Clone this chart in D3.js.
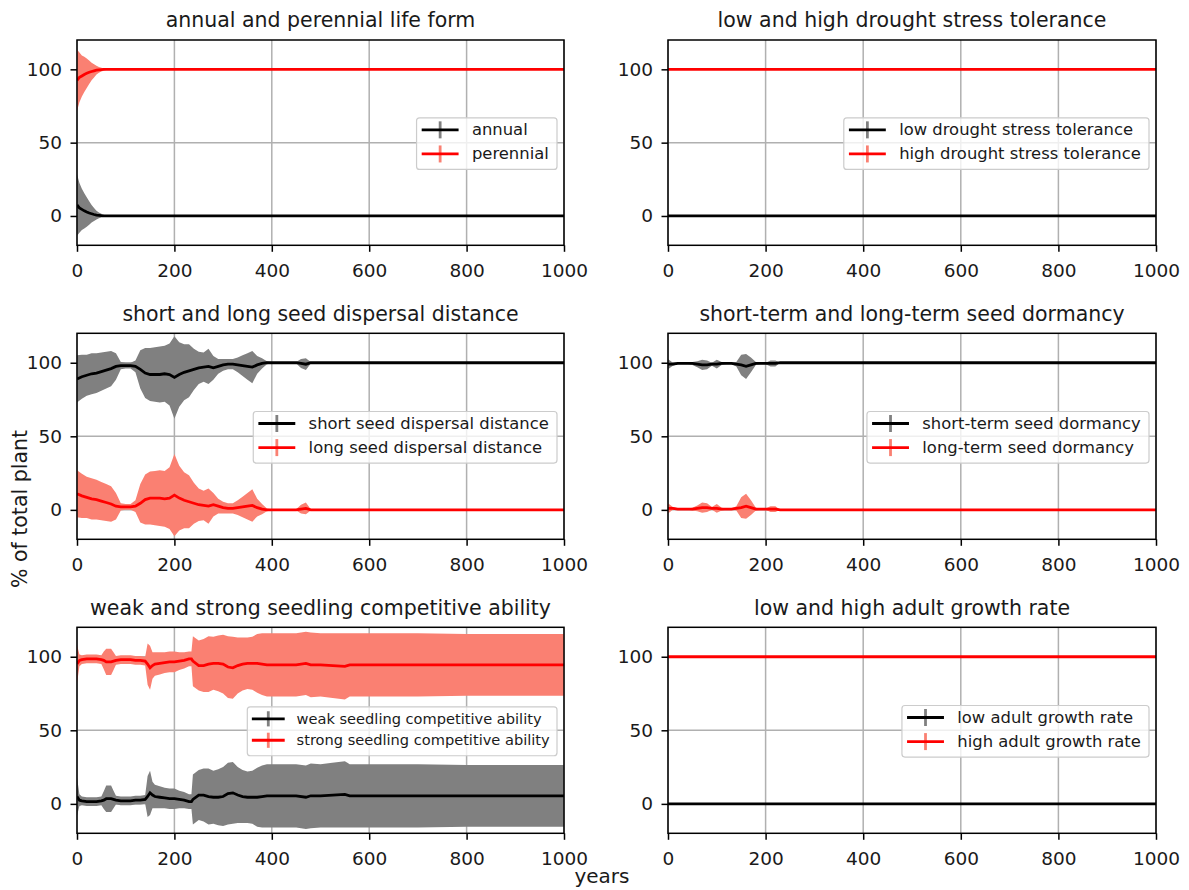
<!DOCTYPE html>
<html><head><meta charset="utf-8">
<script src="https://cdn.jsdelivr.net/npm/d3@7"></script>
<style>
body{margin:0;background:#fff;}
text{font-family:"DejaVu Sans",sans-serif;fill:#1a1a1a;}
</style></head><body>
<svg id="chart" width="1189" height="890"></svg>
<script>
// ---------------- data ----------------
const xTicks = [0, 200, 400, 600, 800, 1000];
const yTicks = [0, 50, 100];

// annual / perennial life form
const lifeYears      = [0, 5, 10, 15, 20, 25, 30, 35, 40, 45, 50, 55, 60, 70, 1000];
const annualMean     = [7.5, 5.5, 4.5, 3.5, 2.7, 2, 1.5, 1, 0.6, 0.4, 0.2, 0.1, 0, 0, 0];
const perennialMean  = [92.5, 94.5, 95.5, 96.5, 97.3, 98, 98.5, 99, 99.4, 99.6, 99.8, 99.9, 100, 100, 100];
const lifeErr        = [21, 17, 14, 12, 10, 8, 6, 4.5, 3, 2, 1.3, 0.8, 0.4, 0, 0];

// drought stress tolerance
const droughtYears = [0, 1000];
const lowDrought   = [0, 0];
const highDrought  = [100, 100];
const droughtErr   = [0, 0];

// seed dispersal distance
const dispYears = [0,10,20,30,40,50,60,70,80,90,100,110,120,130,140,150,160,170,180,190,200,
                   210,220,230,240,250,260,270,280,290,300,310,320,330,340,350,360,370,380,390,400,
                   410,420,430,440,450,460,470,480,490,500,1000];
const shortDisp = [89,90.5,91.5,92.5,93,94,95,96,97.5,98,98,98,97.5,95.5,93,92,92,92,92.5,92,90,
                   92,93.5,94.5,95.5,96.5,97,97.5,96.5,97.5,98.5,99,99,98.5,98,97.5,97,98.5,99.5,100,100,
                   100,100,100,100,100,99.5,99,100,100,100,100];
const longDisp  = [11,9.5,8.5,7.5,7,6,5,4,2.5,2,2,2,2.5,4.5,7,8,8,8,7.5,8,10,
                   8,6.5,5.5,4.5,3.5,3,2.5,3.5,2.5,1.5,1,1,1.5,2,2.5,3,1.5,0.5,0,0,
                   0,0,0,0,0,0.5,1,0,0,0,0];
const dispErr   = [16,15,14,14,13.5,13,12.5,12,9,2.5,2,2,4,13,17,18,18.5,19,19,21,28,
                   22,19,18,14,11,10,12,8,5,4,3.5,3.5,5,7,9,11,6,3.5,1,0.5,
                   0.3,0.3,0.3,0.3,0.5,3,4,0.5,0,0,0];

// seed dormancy
const dormYears  = [0,10,20,30,40,50,60,70,80,90,100,110,120,130,140,150,160,170,180,190,200,210,220,230,1000];
const shortDorm  = [99,99,99.5,99.5,99.5,99.5,99,98.5,98.5,99,99,99.5,99.5,99.5,99,98.5,97.5,98.5,99.5,99.5,99.5,99.5,99.5,100,100];
const longDorm   = [1,1,0.5,0.5,0.5,0.5,1,1.5,1.5,1,1,0.5,0.5,0.5,1,1.5,2.5,1.5,0.5,0.5,0.5,0.5,0.5,0,0];
const dormErr    = [3.5,1,0.5,0.5,0.5,1,2,3.5,3,1,3,1,0.5,0.5,1.5,7,8.5,5,1,0.5,0.5,2,2,0,0];

// seedling competitive ability
const seedYears  = [0,5,10,20,30,40,50,55,60,70,75,80,90,100,110,120,130,140,145,150,155,160,170,180,190,200,
                    210,220,230,235,238,250,260,270,280,290,300,310,320,330,340,350,360,370,380,390,400,
                    450,470,480,500,550,560,600,700,800,900,1000];
const weakSeed   = [5,2.5,2,1.5,1.5,1.5,2,2.5,3.5,3.5,3,2.5,2,2,2,2.5,2.5,3,5,7.5,6,5,4.5,4,3.5,3.5,
                    3,2.5,1.5,1.5,3,6,6,5,4.5,4.5,5,7,7.5,6,5,4.5,4.5,4.5,5,5.5,5.5,
                    5.5,4.5,5.5,5.5,6.5,5.5,5.5,5.5,5.5,5.5,5.5];
const strongSeed = [95,97.5,98,98.5,98.5,98.5,98,97.5,96.5,96.5,97,97.5,98,98,98,97.5,97.5,97,95,92.5,94,95,95.5,96,96.5,96.5,
                    97,97.5,98.5,98.5,97,94,94,95,95.5,95.5,95,93,92.5,94,95,95.5,95.5,95.5,95,94.5,94.5,
                    94.5,95.5,94.5,94.5,93.5,94.5,94.5,94.5,94.5,94.5,94.5];
const seedErr    = [13,4,3,3,3,3,3,6,9,9,6,3,3,3,3,3,3,3,14,15,9,8,7.5,7,7,7,
                    6,5.5,5,5,17,17,18,19,18,19,20,21,21,19,18,17.5,18,20,21,21.5,21.5,
                    21.5,21.5,22,21.5,22.5,21.5,21.5,21.5,21,21,21];

// adult growth rate
const growthYears = [0, 1000];
const lowGrowth   = [0, 0];
const highGrowth  = [100, 100];
const growthErr   = [0, 0];

const panels = [
  {title:"annual and perennial life form", years:lifeYears, a:annualMean, b:perennialMean, err:lifeErr,
   labels:["annual","perennial"], col:0, row:0, lf:16.4},
  {title:"low and high drought stress tolerance", years:droughtYears, a:lowDrought, b:highDrought, err:droughtErr,
   labels:["low drought stress tolerance","high drought stress tolerance"], col:1, row:0, lf:16.4},
  {title:"short and long seed dispersal distance", years:dispYears, a:shortDisp, b:longDisp, err:dispErr,
   labels:["short seed dispersal distance","long seed dispersal distance"], col:0, row:1, lf:16.4},
  {title:"short-term and long-term seed dormancy", years:dormYears, a:shortDorm, b:longDorm, err:dormErr,
   labels:["short-term seed dormancy","long-term seed dormancy"], col:1, row:1, lf:16.4},
  {title:"weak and strong seedling competitive ability", years:seedYears, a:weakSeed, b:strongSeed, err:seedErr,
   labels:["weak seedling competitive ability","strong seedling competitive ability"], col:0, row:2, lf:14.6},
  {title:"low and high adult growth rate", years:growthYears, a:lowGrowth, b:highGrowth, err:growthErr,
   labels:["low adult growth rate","high adult growth rate"], col:1, row:2, lf:16.4}
];

// ---------------- layout ----------------
const colX = [[77, 564], [668, 1156]];
const rowY = [[40, 245.3], [333.3, 539.3], [627.3, 833.3]];
const lineCols = ["#000000", "#ff0000"];
const bandCols = ["#808080", "#fa8072"];

const svg = d3.select("#chart");
const defs = svg.append("defs");

panels.forEach((p, pi) => {
  const [x0, x1] = colX[p.col], [y0, y1] = rowY[p.row];
  const x = d3.scaleLinear().domain([0, 1000]).range([x0, x1]);
  const y = d3.scaleLinear().domain([-20, 120]).range([y1, y0]);
  const g = svg.append("g");
  const cid = "clip" + pi;
  defs.append("clipPath").attr("id", cid).append("rect")
    .attr("x", x0).attr("y", y0).attr("width", x1 - x0).attr("height", y1 - y0);

  // grid
  g.append("g").selectAll("line").data(xTicks).join("line")
    .attr("x1", d => x(d)).attr("x2", d => x(d)).attr("y1", y0).attr("y2", y1)
    .attr("stroke", "#b0b0b0").attr("stroke-width", 1.5);
  g.append("g").selectAll("line").data(yTicks).join("line")
    .attr("x1", x0).attr("x2", x1).attr("y1", d => y(d)).attr("y2", d => y(d))
    .attr("stroke", "#b0b0b0").attr("stroke-width", 1.5);

  const plot = g.append("g").attr("clip-path", `url(#${cid})`);
  [p.a, p.b].forEach((series, si) => {
    const data = p.years.map((yr, i) => ({yr, m: series[i], e: p.err[i]}));
    const area = d3.area().x(d => x(d.yr)).y0(d => y(d.m - d.e)).y1(d => y(d.m + d.e));
    plot.append("path").datum(data).attr("d", area).attr("fill", bandCols[si]);
    plot.append("path").datum(data)
      .attr("d", d3.line().x(d => x(d.yr)).y(d => y(d.m)))
      .attr("fill", "none").attr("stroke", lineCols[si]).attr("stroke-width", 2.8);
  });

  // spines
  g.append("rect").attr("x", x0).attr("y", y0).attr("width", x1 - x0).attr("height", y1 - y0)
    .attr("fill", "none").attr("stroke", "#000").attr("stroke-width", 1.5);

  // axes
  const ax = g.append("g").attr("transform", `translate(0,${y1})`)
    .call(d3.axisBottom(x).tickValues(xTicks).tickSize(6.5).tickPadding(12).tickFormat(d3.format("d")));
  const ay = g.append("g").attr("transform", `translate(${x0},0)`)
    .call(d3.axisLeft(y).tickValues(yTicks).tickSize(6.5).tickPadding(8.5).tickFormat(d3.format("d")));
  [ax, ay].forEach(a => {
    a.select(".domain").remove();
    a.selectAll(".tick line").attr("stroke", "#000").attr("stroke-width", 1.5);
    a.selectAll(".tick text").style("font-size", "18.5px").style("font-family", "DejaVu Sans").attr("fill", "#1a1a1a");
  });

  // title
  g.append("text").attr("x", (x0 + x1) / 2).attr("y", y0 - 12.7).attr("text-anchor", "middle")
    .style("font-size", "20.5px").text(p.title);

  // legend
  const fs = p.lf, k = fs / 16;
  const lg = g.append("g");
  const box = lg.append("rect");
  const cy = (y0 + y1) / 2 + 1;
  const rowGap = 23.5 * k;
  const boxH = rowGap + 27.5;
  const top = cy - boxH / 2;
  const right = x1 - 7;
  const texts = p.labels.map((lab, li) =>
    lg.append("text").attr("y", top + 12 + li * rowGap).attr("dy", "0.33em")
      .style("font-size", fs + "px").text(lab));
  const tw = d3.max(texts, t => t.node().getComputedTextLength());
  const boxW = 54 * k + tw + 8 * k;
  const left = right - boxW;
  box.attr("x", left).attr("y", top).attr("width", boxW).attr("height", boxH)
    .attr("rx", 3).attr("fill", "#fff").attr("fill-opacity", 0.8)
    .attr("stroke", "#cccccc").attr("stroke-width", 1.2);
  texts.forEach(t => t.attr("x", left + 54 * k));
  p.labels.forEach((lab, li) => {
    const ry = top + 12 + li * rowGap;
    const hx0 = left + 5 * k, hx1 = left + 41 * k, hc = (hx0 + hx1) / 2;
    lg.append("line").attr("x1", hc).attr("x2", hc).attr("y1", ry - 8.3 * k).attr("y2", ry + 8.3 * k)
      .attr("stroke", bandCols[li]).attr("stroke-width", 2.8);
    lg.append("line").attr("x1", hx0).attr("x2", hx1).attr("y1", ry).attr("y2", ry)
      .attr("stroke", lineCols[li]).attr("stroke-width", 2.8);
  });
});

// shared axis labels
svg.append("text").attr("transform", "translate(27,509) rotate(-90)").attr("text-anchor", "middle")
  .style("font-size", "20.5px").text("% of total plant");
svg.append("text").attr("x", 602).attr("y", 883).attr("text-anchor", "middle")
  .style("font-size", "20px").text("years");
</script>
</body></html>
